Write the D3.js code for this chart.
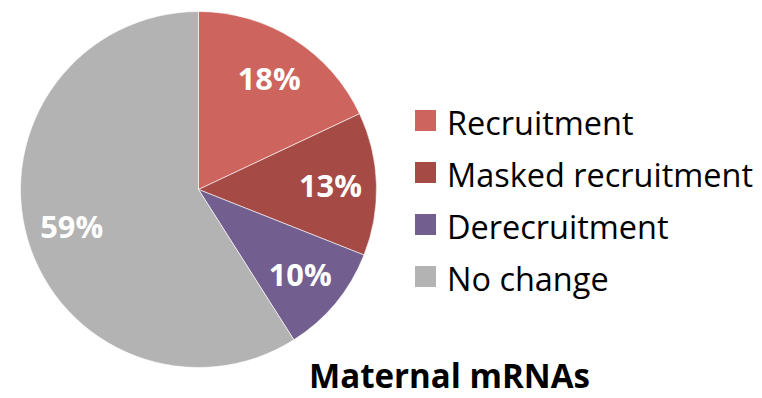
<!DOCTYPE html>
<html>
<head>
<meta charset="utf-8">
<script src="https://cdn.jsdelivr.net/npm/d3@7"></script>
<style>
  html, body { margin: 0; padding: 0; background: #fff; }
  svg { display: block; font-family: "Open Sans", Lato, sans-serif; }
</style>
</head>
<body>
<svg id="chart" width="762" height="398"></svg>
<script>
// Share of maternal mRNAs by translational behaviour
const categories = ["Recruitment", "Masked recruitment", "Derecruitment", "No change"];
const values = [18, 13, 10, 59];
const colors = ["#CD645E", "#A54A44", "#735F8F", "#B3B3B3"];
const title = "Maternal mRNAs";

const svg = d3.select("#chart");
const cx = 198.5, cy = 189.5, radius = 178;

const data = categories.map((c, i) => ({ name: c, value: values[i], color: colors[i] }));

const pie = d3.pie().value(d => d.value).sort(null);
const arc = d3.arc().innerRadius(0).outerRadius(radius);
const labelArc = d3.arc().innerRadius(132).outerRadius(132);

// Scale a text's font size so that it spans the given width
function fitWidth(sel, width) {
  sel.each(function () {
    const fs = parseFloat(this.getAttribute("font-size"));
    const w = this.getComputedTextLength();
    if (w > 0) this.setAttribute("font-size", (fs * width / w).toFixed(2));
  });
}

const g = svg.append("g").attr("transform", `translate(${cx},${cy})`);
const arcs = pie(data);

g.selectAll("path.slice")
  .data(arcs)
  .join("path")
  .attr("class", "slice")
  .attr("d", arc)
  .attr("fill", d => d.data.color)
  .attr("stroke", "#fff")
  .attr("stroke-width", 0.6);

const pct = g.selectAll("text.pct")
  .data(arcs)
  .join("text")
  .attr("class", "pct")
  .attr("transform", d => `translate(${labelArc.centroid(d)})`)
  .attr("text-anchor", "middle")
  .attr("dominant-baseline", "central")
  .attr("fill", "#fff")
  .attr("font-weight", 700)
  .attr("font-size", 30)
  .text(d => d.data.value + "%");
const pctSize = (() => {
  const n = pct.filter(d => d.data.value === 18).node();
  return 30 * 63 / n.getComputedTextLength();
})();
pct.attr("font-size", pctSize.toFixed(2));

// Legend
const legend = svg.append("g").attr("transform", "translate(415,110)");
const rowH = 52;
const items = legend.selectAll("g.item")
  .data(data)
  .join("g")
  .attr("class", "item")
  .attr("transform", (d, i) => `translate(0,${i * rowH})`);

items.append("rect")
  .attr("width", 21)
  .attr("height", 21)
  .attr("fill", d => d.color);

const legendText = items.append("text")
  .attr("x", 32)
  .attr("y", 25)
  .attr("font-size", 30)
  .attr("fill", "#000")
  .text(d => d.name);
const longest = legendText.filter(d => d.name === "Masked recruitment").node();
const legendSize = 30 * 306 / longest.getComputedTextLength();
legendText.attr("font-size", legendSize.toFixed(2));

// Title
const titleText = svg.append("text")
  .attr("x", 449.5)
  .attr("y", 388)
  .attr("text-anchor", "middle")
  .attr("font-size", 32)
  .attr("font-weight", 700)
  .attr("fill", "#000")
  .text(title);
fitWidth(titleText, 281);
</script>
</body>
</html>
